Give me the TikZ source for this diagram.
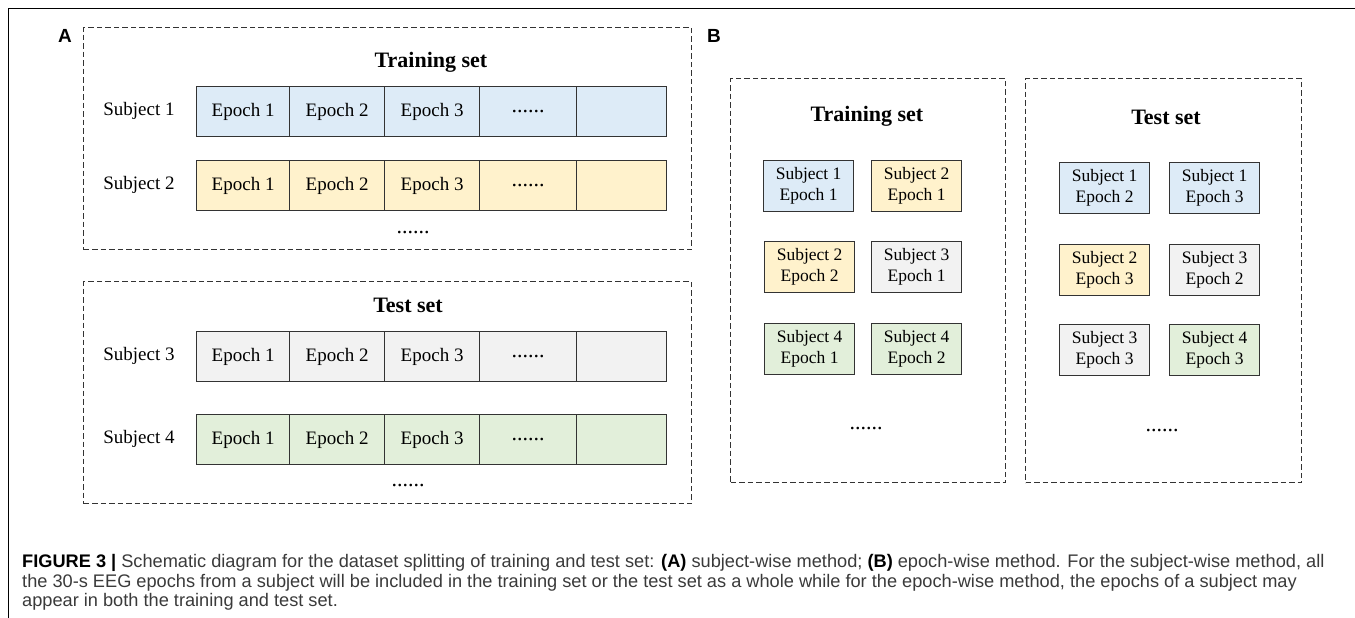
\documentclass[tikz,border=0pt]{standalone}
\usepackage{fontspec}
\setmainfont{Liberation Serif}
\newfontfamily\sansf{Liberation Sans}
\definecolor{cblue}{HTML}{DDEBF7}
\definecolor{cyellow}{HTML}{FFF2CC}
\definecolor{cgray}{HTML}{F2F2F2}
\definecolor{cgreen}{HTML}{E2EFDA}
\definecolor{edge}{HTML}{333333}
\definecolor{captxt}{HTML}{3A3A3A}
\tikzset{
  dashbox/.style={draw=edge, line width=1.2pt, dash pattern=on 5.5pt off 3pt, anchor=north west, inner sep=0pt},
  cell/.style={draw=edge, line width=1.2pt, anchor=north west, inner sep=0pt, minimum height=50pt, font=\fontsize{19}{21}\selectfont},
  sbox/.style={draw=edge, line width=1.3pt, anchor=north west, inner sep=0pt, minimum width=90pt, minimum height=51pt, align=center, font=\fontsize{17.5}{21}\selectfont},
  settitle/.style={font=\fontsize{22}{24}\selectfont\bfseries},
  subj/.style={font=\fontsize{19}{21}\selectfont},
  dotsA/.style={font=\fontsize{22}{24}\selectfont},
  panel/.style={font=\sansf\bfseries\fontsize{19}{20}\selectfont},
  captext/.style={anchor=base west, inner sep=0pt, font=\sansf\fontsize{18.2}{20}\selectfont, text=captxt},
}
\begin{document}
\begin{tikzpicture}[x=1pt,y=-1pt]
\useasboundingbox (0,0) rectangle (1355,618);
% outer frame
\draw[line width=1pt] (8,618) -- (8,9) -- (1355,9);
% panel labels
\node[panel] (labA) at (65,36) {A};
\node[panel] (labB) at (714,36) {B};
% ---------- Panel A ----------
\node[dashbox, minimum width=608pt, minimum height=222pt] (trainA) at (83,27) {};
\node[settitle] (trainAt) at (431,62) {Training set};
\node[dashbox, minimum width=608pt, minimum height=222pt] (testA) at (83,281) {};
\node[settitle] (testAt) at (408,305) {Test set};
% rows
\foreach \r/\y/\c/\s/\yc in {1/86/cblue/1/111, 2/160/cyellow/2/185, 3/331/cgray/3/356, 4/414/cgreen/4/439}{
  \node[subj] (s\r) at (139,\yc) {Subject \s};
  \node[cell, fill=\c, minimum width=93pt] (r\r c1) at (196,\y) {Epoch 1};
  \node[cell, fill=\c, minimum width=95pt] (r\r c2) at (289,\y) {Epoch 2};
  \node[cell, fill=\c, minimum width=95pt] (r\r c3) at (384,\y) {Epoch 3};
  \node[cell, fill=\c, minimum width=97pt] (r\r c4) at (479,\y) {};
  \node[dotsA] (r\r d) at (r\r c4.center) {......};
  \node[cell, fill=\c, minimum width=90pt] (r\r c5) at (576,\y) {};
}
\node[dotsA] (dA1) at (413,233) {......};
\node[dotsA] (dA2) at (408,486) {......};
% ---------- Panel B ----------
\node[dashbox, minimum width=275pt, minimum height=404pt] (trainB) at (730,78) {};
\node[settitle] (trainBt) at (867,116) {Training set};
\node[dashbox, minimum width=276pt, minimum height=404pt] (testB) at (1025,78) {};
\node[settitle] (testBt) at (1166,117) {Test set};
% training set boxes
\node[sbox, fill=cblue]   (b1) at (763,160) {Subject 1\\Epoch 1};
\node[sbox, fill=cyellow] (b2) at (871,160) {Subject 2\\Epoch 1};
\node[sbox, fill=cyellow] (b3) at (764,241) {Subject 2\\Epoch 2};
\node[sbox, fill=cgray]   (b4) at (871,241) {Subject 3\\Epoch 1};
\node[sbox, fill=cgreen]  (b5) at (764,323) {Subject 4\\Epoch 1};
\node[sbox, fill=cgreen]  (b6) at (871,323) {Subject 4\\Epoch 2};
\node[dotsA] (dB1) at (866,429) {......};
% test set boxes
\node[sbox, fill=cblue]   (t1) at (1059,162) {Subject 1\\Epoch 2};
\node[sbox, fill=cblue]   (t2) at (1169,162) {Subject 1\\Epoch 3};
\node[sbox, fill=cyellow] (t3) at (1059,244) {Subject 2\\Epoch 3};
\node[sbox, fill=cgray]   (t4) at (1169,244) {Subject 3\\Epoch 2};
\node[sbox, fill=cgray]   (t5) at (1059,324) {Subject 3\\Epoch 3};
\node[sbox, fill=cgreen]  (t6) at (1169,324) {Subject 4\\Epoch 3};
\node[dotsA] (dB2) at (1162,431) {......};
% ---------- Caption ----------
\node[captext] (cap1) at (22,567) {\textcolor{black}{\bfseries FIGURE 3 |} Schematic diagram for the dataset splitting of training and test set: \textcolor{black}{\bfseries (A)} subject-wise method; \textcolor{black}{\bfseries (B)} epoch-wise method. For the subject-wise method, all};
\node[captext] (cap2) at (22,587) {the 30-s EEG epochs from a subject will be included in the training set or the test set as a whole while for the epoch-wise method, the epochs of a subject may};
\node[captext] (cap3) at (22,606) {appear in both the training and test set.};
\end{tikzpicture}
\end{document}
